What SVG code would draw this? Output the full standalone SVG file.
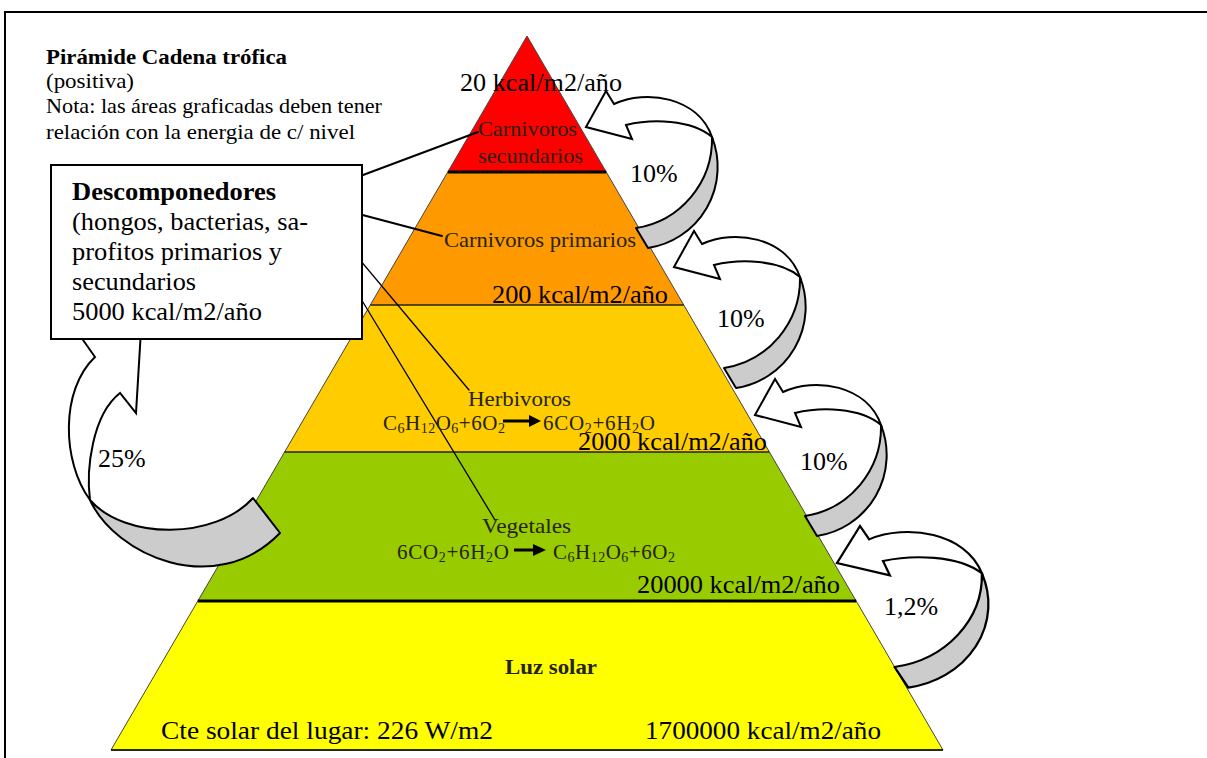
<svg xmlns="http://www.w3.org/2000/svg" width="1207" height="758" viewBox="0 0 1207 758">
<defs>
<style>
.ser{font-family:"Liberation Serif","Times New Roman",serif;}
.big{font-size:26px;fill:#000}
.ttl{font-size:22px;fill:#000}
.inl{font-size:21px;fill:#242410}
.sub{font-size:14px}
.b{font-weight:bold}
.arrW{fill:#fff;stroke:#000;stroke-width:2;stroke-linejoin:miter}
.arrG{fill:#cccccc;stroke:#000;stroke-width:2;stroke-linejoin:round}
.conn{stroke:#000;fill:none;stroke-linecap:round}
.band{stroke:none}
.rx{fill:#000;stroke:none}
</style>
<g id="carrow">
<path class="arrG" d="M126,10 A82 82 0 0 1 62,121 L50,101 A90 90 0 0 0 126,10 Z"/>
<path class="arrW" d="M0,0 L20,-36 L28,-23 C60,-38 112,-30 126,10 C105,-8 65,-8 40,-2 L46,12 Z"/>
</g>
</defs>
<rect x="0" y="0" width="1207" height="758" fill="#fff"/>
<path d="M5,760 L5,12 L1210,12" fill="none" stroke="#000" stroke-width="2"/>

<g id="pyramid">
<polygon class="band" fill="#ff0000" points="527,36 606.2,172 447.8,172"/>
<polygon class="band" fill="#ff9900" points="447.8,172 606.2,172 683.7,305 370.3,305"/>
<polygon class="band" fill="#ffcc00" points="370.3,305 683.7,305 769.4,452 284.6,452"/>
<polygon class="band" fill="#99cc00" points="284.6,452 769.4,452 856.2,601 197.8,601"/>
<polygon class="band" fill="#ffff00" points="197.8,601 856.2,601 943,750 111,750"/>
<polygon points="527,36 943,750 111,750" fill="none" stroke="#444" stroke-width="1"/>
<line x1="447.8" y1="172" x2="606.2" y2="172" stroke="#000" stroke-width="3"/>
<line x1="370.3" y1="305" x2="683.7" y2="305" stroke="#222" stroke-width="1.5"/>
<line x1="284.6" y1="452" x2="769.4" y2="452" stroke="#222" stroke-width="1.5"/>
<line x1="197.8" y1="601" x2="856.2" y2="601" stroke="#000" stroke-width="3"/>
<line x1="111" y1="750" x2="943" y2="750" stroke="#000" stroke-width="1.5"/>
</g>

<g id="arrows">
<use href="#carrow" transform="translate(586,127)"/>
<use href="#carrow" transform="translate(674,267)"/>
<use href="#carrow" transform="translate(755,415)"/>
<use href="#carrow" transform="translate(837,563) scale(1.15,1.03)"/>
<g id="arrow25">
<path class="arrG" d="M90,500 C115,555 215,600 280,533 L253,498 C215,540 125,540 90,500 Z"/>
<path class="arrW" d="M76,330 L95,357 C60,390 62,462 90,500 C86,470 92,415 120,393 L136,413 L141,330 Z"/>
</g>
</g>

<g id="connectors">
<line class="conn" x1="355" y1="178" x2="478" y2="132" stroke-width="2"/>
<line class="conn" x1="355" y1="213" x2="442" y2="236" stroke-width="2"/>
<line class="conn" x1="355" y1="254" x2="469" y2="390" stroke-width="1.3"/>
<line class="conn" x1="355" y1="289" x2="495" y2="520" stroke-width="1.3"/>
</g>

<g id="title">
<text class="ser ttl b" x="46" y="64" textLength="241" lengthAdjust="spacingAndGlyphs">Pirámide Cadena trófica</text>
<text class="ser ttl" x="46" y="88" textLength="88" lengthAdjust="spacingAndGlyphs">(positiva)</text>
<text class="ser ttl" x="46" y="113" textLength="336" lengthAdjust="spacingAndGlyphs">Nota: las áreas graficadas deben tener</text>
<text class="ser ttl" x="46" y="139" textLength="309" lengthAdjust="spacingAndGlyphs">relación con la energia de c/ nivel</text>
</g>

<g id="descomponedores">
<rect x="51" y="165" width="311" height="174" fill="#fff" stroke="#000" stroke-width="2"/>
<text class="ser big b" x="72" y="200" textLength="204" lengthAdjust="spacingAndGlyphs">Descomponedores</text>
<text class="ser big" x="72" y="230" textLength="236" lengthAdjust="spacingAndGlyphs">(hongos, bacterias, sa-</text>
<text class="ser big" x="72" y="260" textLength="210" lengthAdjust="spacingAndGlyphs">profitos primarios y</text>
<text class="ser big" x="72" y="290" textLength="124" lengthAdjust="spacingAndGlyphs">secundarios</text>
<text class="ser big" x="72" y="320" textLength="190" lengthAdjust="spacingAndGlyphs">5000 kcal/m2/año</text>
</g>

<g id="carnivoros-secundarios">
<text class="ser inl" x="478" y="136" textLength="99" lengthAdjust="spacingAndGlyphs">Carnivoros</text>
<text class="ser inl" x="478" y="163" textLength="105" lengthAdjust="spacingAndGlyphs">secundarios</text>
<text class="ser big" x="460" y="91" textLength="162" lengthAdjust="spacingAndGlyphs">20 kcal/m2/año</text>
</g>

<g id="carnivoros-primarios">
<text class="ser inl" x="444" y="247" textLength="192" lengthAdjust="spacingAndGlyphs">Carnivoros primarios</text>
<text class="ser big" x="492" y="303" textLength="176" lengthAdjust="spacingAndGlyphs">200 kcal/m2/año</text>
</g>

<g id="herbivoros">
<text class="ser inl" x="468" y="406" textLength="103" lengthAdjust="spacingAndGlyphs">Herbivoros</text>
<text class="ser inl" x="383" y="430" letter-spacing="0.5">C<tspan class="sub" dy="3">6</tspan><tspan dy="-3">H</tspan><tspan class="sub" dy="3">12</tspan><tspan dy="-3">O</tspan><tspan class="sub" dy="3">6</tspan><tspan dy="-3">+6O</tspan><tspan class="sub" dy="3">2</tspan></text>
<line x1="503" y1="421" x2="532" y2="421" stroke="#000" stroke-width="3"/>
<polygon class="rx" points="529,415 541,421 529,427"/>
<text class="ser inl" x="543" y="430" letter-spacing="0.7">6CO<tspan class="sub" dy="3">2</tspan><tspan dy="-3">+6H</tspan><tspan class="sub" dy="3">2</tspan><tspan dy="-3">O</tspan></text>
<text class="ser big" x="578" y="450" textLength="189" lengthAdjust="spacingAndGlyphs">2000 kcal/m2/año</text>
</g>

<g id="vegetales">
<text class="ser inl" x="482" y="533" textLength="89" lengthAdjust="spacingAndGlyphs">Vegetales</text>
<text class="ser inl" x="397" y="559" letter-spacing="0.7">6CO<tspan class="sub" dy="3">2</tspan><tspan dy="-3">+6H</tspan><tspan class="sub" dy="3">2</tspan><tspan dy="-3">O</tspan></text>
<line x1="514" y1="550" x2="536" y2="550" stroke="#000" stroke-width="3"/>
<polygon class="rx" points="533,544 546,550 533,556"/>
<text class="ser inl" x="553" y="559" letter-spacing="0.5">C<tspan class="sub" dy="3">6</tspan><tspan dy="-3">H</tspan><tspan class="sub" dy="3">12</tspan><tspan dy="-3">O</tspan><tspan class="sub" dy="3">6</tspan><tspan dy="-3">+6O</tspan><tspan class="sub" dy="3">2</tspan></text>
<text class="ser big" x="637" y="593" textLength="203" lengthAdjust="spacingAndGlyphs">20000 kcal/m2/año</text>
</g>

<g id="luz-solar">
<text class="ser inl b" x="505" y="674" textLength="92" lengthAdjust="spacingAndGlyphs" fill="#000">Luz solar</text>
<text class="ser big" x="161" y="739" textLength="332" lengthAdjust="spacingAndGlyphs">Cte solar del lugar: 226 W/m2</text>
<text class="ser big" x="645" y="739" textLength="236" lengthAdjust="spacingAndGlyphs">1700000 kcal/m2/año</text>
</g>

<g id="percentages">
<text class="ser big" x="630" y="182">10%</text>
<text class="ser big" x="717" y="327">10%</text>
<text class="ser big" x="800" y="470">10%</text>
<text class="ser big" x="884" y="615">1,2%</text>
<text class="ser big" x="98" y="467">25%</text>
</g>
</svg>
